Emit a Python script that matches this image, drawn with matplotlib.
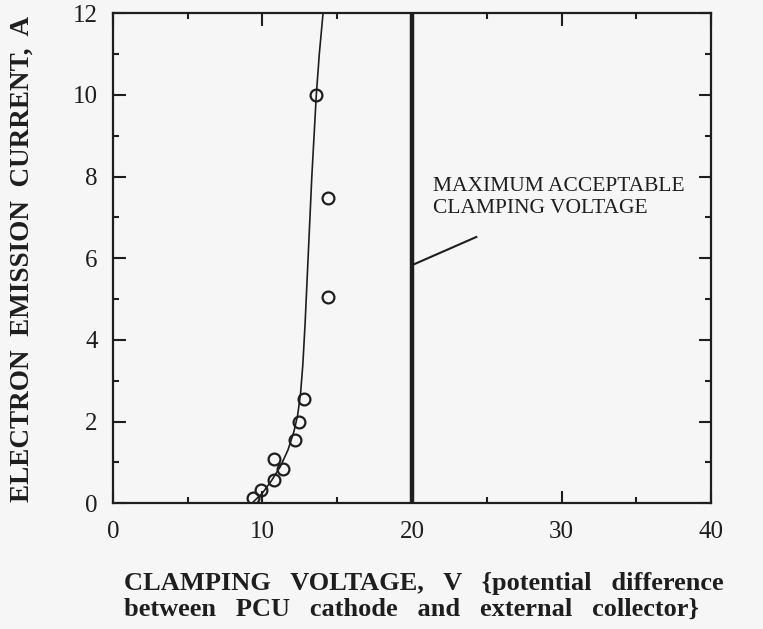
import matplotlib.pyplot as plt
from matplotlib.ticker import MultipleLocator

# measured points (clamping voltage V, emission current A)
volts = [13.55, 14.35, 14.35, 12.75, 12.45, 12.2, 10.75, 11.35, 10.75, 9.9, 9.4]
amps = [10.0, 7.47, 5.05, 2.55, 2.0, 1.55, 1.08, 0.83, 0.56, 0.32, 0.12]

# fitted curve
fit_v = [9.3, 10.0, 10.6, 11.2, 11.7, 12.1, 12.35, 12.55, 12.7, 12.85, 13.05, 13.3, 13.6, 13.8, 14.05]
fit_a = [0.0, 0.25, 0.55, 0.9, 1.3, 1.75, 2.15, 2.7, 3.4, 4.4, 6.0, 8.0, 10.0, 11.0, 12.0]

max_clamp = 20.0
note = "MAXIMUM ACCEPTABLE\nCLAMPING VOLTAGE"

ink = '#1e1e1e'
bg = '#f6f6f6'
plt.rcParams['font.family'] = ['Liberation Serif', 'DejaVu Serif']

fig = plt.figure(figsize=(7.63, 6.29), dpi=100, facecolor=bg)
ax = fig.add_axes([0.148, 0.200, 0.784, 0.779], facecolor=bg)

ax.plot(fit_v, fit_a, color=ink, lw=1.2, zorder=2)
ax.plot(volts, amps, 'o', mfc='none', mec=ink, mew=1.6, ms=8.5, zorder=3)
ax.axvline(max_clamp, color=ink, lw=3.2, zorder=2)
ax.plot([20.0, 24.3], [5.83, 6.52], color=ink, lw=1.5)
ax.text(21.4, 8.0, note, fontsize=15.5, color=ink, va='top', ha='left',
        linespacing=1.22)

ax.set_xlim(0, 40)
ax.set_ylim(0, 12)
ax.xaxis.set_major_locator(MultipleLocator(10))
ax.xaxis.set_minor_locator(MultipleLocator(5))
ax.yaxis.set_major_locator(MultipleLocator(2))
ax.yaxis.set_minor_locator(MultipleLocator(1))
ax.tick_params(which='both', direction='in', top=True, right=True,
               color=ink, width=1.5, labelcolor=ink, labelsize=18)
ax.tick_params(which='major', length=9)
ax.tick_params(which='minor', length=4.5)
ax.tick_params(axis='x', which='major', pad=13)
ax.tick_params(axis='y', which='major', pad=11)
for s in ax.spines.values():
    s.set_linewidth(1.6)
    s.set_color(ink)

fig.text(0.029, 0.588, "ELECTRON  EMISSION  CURRENT,  A", rotation=90,
         fontsize=19.5, fontweight='bold', color=ink, ha='center', va='center')
fig.text(0.163, 0.052,
         "CLAMPING   VOLTAGE,   V   {potential   difference\n"
         "between   PCU   cathode   and   external   collector}",
         fontsize=19, fontweight='bold', color=ink, ha='left', va='center',
         linespacing=1.15)

fig.savefig('out.png', dpi=100, facecolor=bg)
